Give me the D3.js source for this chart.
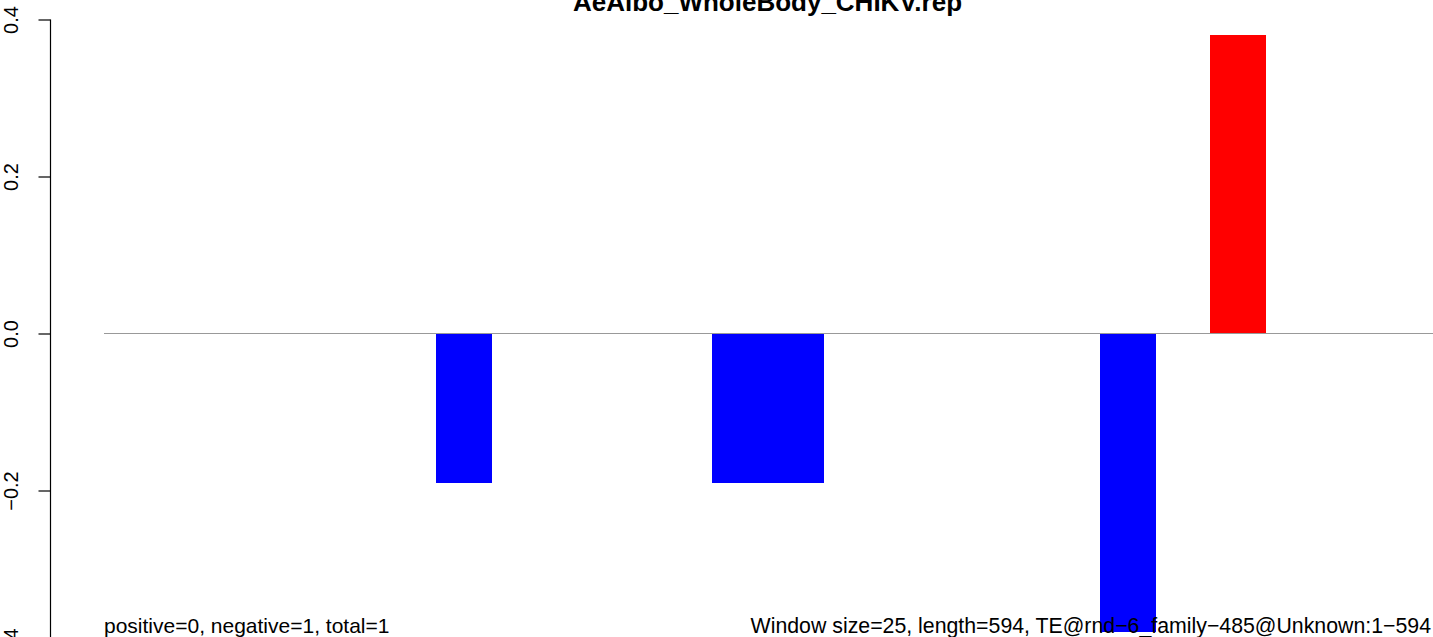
<!DOCTYPE html>
<html>
<head>
<meta charset="utf-8">
<script src="https://cdn.jsdelivr.net/npm/d3@7"></script>
<style>
  html, body { margin: 0; padding: 0; background: #fff; overflow: hidden; }
  svg { display: block; font-family: "Liberation Sans", Arial, Helvetica, sans-serif; }
</style>
</head>
<body>
<svg id="chart" width="1433" height="637"></svg>
<script>
// ---- data ----
const title = "AeAlbo_WholeBody_CHIKV.rep";
const windowIndex = [6, 11, 12, 18, 20];
const windowValue = [-0.19, -0.19, -0.19, -0.38, 0.38];
const nWindows = 24.03;
const yTicks = [-0.4, -0.2, 0.0, 0.2, 0.4];
const yTickLabels = ["\u22120.4", "\u22120.2", "0.0", "0.2", "0.4"];
const leftNote = "positive=0, negative=1, total=1";
const rightNote = "Window size=25, length=594, TE@rnd\u22126_family\u2212485@Unknown:1\u2212594";

const svg = d3.select("#chart");
const x = d3.scaleLinear().domain([0, nWindows]).range([104, 1433]);
const y = d3.scaleLinear().domain([-0.4, 0.4]).range([647.5, 19.5]);

// bars
const bars = windowIndex.map((w, i) => ({ w, v: windowValue[i] }));
svg.append("g").attr("shape-rendering", "crispEdges")
  .selectAll("rect").data(bars).join("rect")
  .attr("x", d => Math.round(x(d.w)))
  .attr("width", d => Math.round(x(d.w + 1)) - Math.round(x(d.w)) + 0.6)
  .attr("y", d => y(Math.max(0, d.v)))
  .attr("height", d => Math.abs(y(d.v) - y(0)))
  .attr("fill", d => d.v > 0 ? "#ff0000" : "#0000ff");

// baseline
svg.append("line")
  .attr("x1", x(0)).attr("x2", 1433)
  .attr("y1", y(0)).attr("y2", y(0))
  .attr("stroke", "#999999").attr("stroke-width", 1.2);

// y axis
const axis = d3.axisLeft(y).tickValues(yTicks)
  .tickFormat((d, i) => yTickLabels[i]).tickSize(12).tickPadding(0);
const gA = svg.append("g").attr("transform", "translate(50.5,0)").call(axis);
gA.select(".domain").remove();
gA.append("line").attr("x1", 0).attr("x2", 0).attr("y1", y(0.4)).attr("y2", y(-0.4))
  .attr("stroke", "#000").attr("stroke-width", 1.2);
gA.selectAll(".tick line").attr("stroke", "#000").attr("stroke-width", 1.2);
gA.selectAll(".tick text")
  .attr("x", 0).attr("dy", null)
  .attr("transform", "translate(-33,0) rotate(-90)")
  .attr("text-anchor", "middle")
  .attr("font-size", 20)
  .attr("font-family", "Liberation Sans, Arial, sans-serif")
  .attr("fill", "#000");

// title
svg.append("text")
  .attr("x", (x(0) + 1431) / 2).attr("y", 11)
  .attr("text-anchor", "middle")
  .attr("font-weight", "bold").attr("font-size", 26)
  .text(title);

// notes
svg.append("text").attr("x", 104).attr("y", 633)
  .attr("font-size", 21).text(leftNote);
svg.append("text").attr("x", 1431).attr("y", 633)
  .attr("text-anchor", "end").attr("font-size", 21.3).text(rightNote);
</script>
</body>
</html>
